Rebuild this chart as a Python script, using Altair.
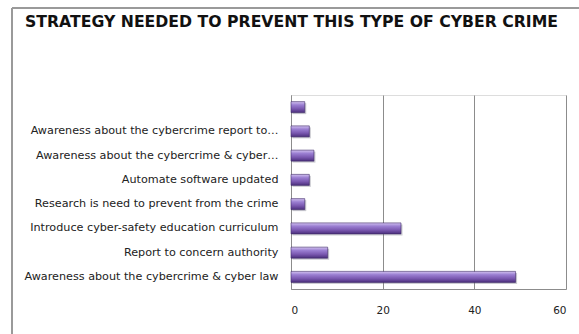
import altair as alt
import pandas as pd

# Survey responses: strategy needed to prevent this type of cyber crime
title_text = "STRATEGY NEEDED TO PREVENT THIS TYPE OF CYBER CRIME"
strategies = [
    " ",
    "Awareness about the cybercrime report to…",
    "Awareness about the cybercrime & cyber…",
    "Automate software updated",
    "Research is need to prevent from the crime",
    "Introduce cyber-safety education curriculum",
    "Report to concern authority",
    "Awareness about the cybercrime & cyber law",
]
counts = [3, 4, 5, 4, 3, 24, 8, 49]
x_ticks = [0, 20, 40, 60]

df = pd.DataFrame({"strategy": strategies, "count": counts})

PLOT_W, PLOT_H = 275, 194
PAD_L, PAD_T = 291, 95

bar_fill = alt.Gradient(
    gradient="linear",
    x1=0, x2=0, y1=0, y2=1,
    stops=[
        alt.GradientStop(offset=0.0, color="#d2c2f0"),
        alt.GradientStop(offset=0.3, color="#9b7fd2"),
        alt.GradientStop(offset=0.65, color="#7a58b0"),
        alt.GradientStop(offset=1.0, color="#4b2f7c"),
    ],
)

x_scale = alt.Scale(domain=[0, 60], nice=False)

y_enc = alt.Y(
    "strategy:N",
    sort=strategies,
    title=None,
    axis=alt.Axis(
        labelFont="DejaVu Sans",
        labelFontSize=11.2,
        labelColor="#222222",
        labelPadding=13,
        labelLimit=300,
        ticks=False,
        domain=True,
        domainColor="#8c8c8c",
        grid=False,
    ),
)
x_enc = alt.X(
    "count:Q",
    scale=x_scale,
    title=None,
    axis=alt.Axis(
        values=x_ticks,
        labelFont="DejaVu Sans",
        labelFontSize=10.5,
        labelColor="#222222",
        labelPadding=16,
        ticks=False,
        domainColor="#8c8c8c",
        grid=True,
        gridColor="#8c8c8c",
        gridWidth=1,
    ),
)

shadow = alt.Chart(df).mark_bar(size=11, color="#6b6b7a", opacity=0.35, xOffset=1.5, yOffset=1.5).encode(
    x=alt.X("count:Q", scale=x_scale),
    y=alt.Y("strategy:N", sort=strategies),
)

bars = alt.Chart(df).mark_bar(
    size=11, color=bar_fill, stroke="#3e2868", strokeWidth=0.6
).encode(x=x_enc, y=y_enc)

# outer frame around the whole figure
frame_left = alt.Chart(df).mark_rule(color="#9a9a9a", strokeWidth=1.5).encode(
    x=alt.value(12 - PAD_L), y=alt.value(8 - PAD_T), y2=alt.value(340 - PAD_T)
)
frame_top = alt.Chart(df).mark_rule(color="#9a9a9a", strokeWidth=1.5).encode(
    x=alt.value(12 - PAD_L), x2=alt.value(585 - PAD_L), y=alt.value(8 - PAD_T)
)

# heading, drawn as a text mark placed above the plot area
heading = alt.Chart(pd.DataFrame({"t": [title_text]})).mark_text(
    font="DejaVu Sans",
    fontSize=15.7,
    fontWeight="bold",
    color="#111111",
    align="left",
    baseline="alphabetic",
).encode(text="t:N", x=alt.value(25 - PAD_L), y=alt.value(26.5 - PAD_T))

chart = (
    alt.layer(shadow, bars, frame_left, frame_top, heading)
    .properties(
        width=PLOT_W,
        height=PLOT_H,
        autosize=alt.AutoSizeParams(type="none"),
        padding={"left": PAD_L, "top": PAD_T, "right": 579 - PAD_L - PLOT_W, "bottom": 334 - PAD_T - PLOT_H},
    )
    .configure_view(stroke=None)
    .configure(background="white")
)

chart.save("out.html", embed_options={"renderer": "svg", "actions": False})
